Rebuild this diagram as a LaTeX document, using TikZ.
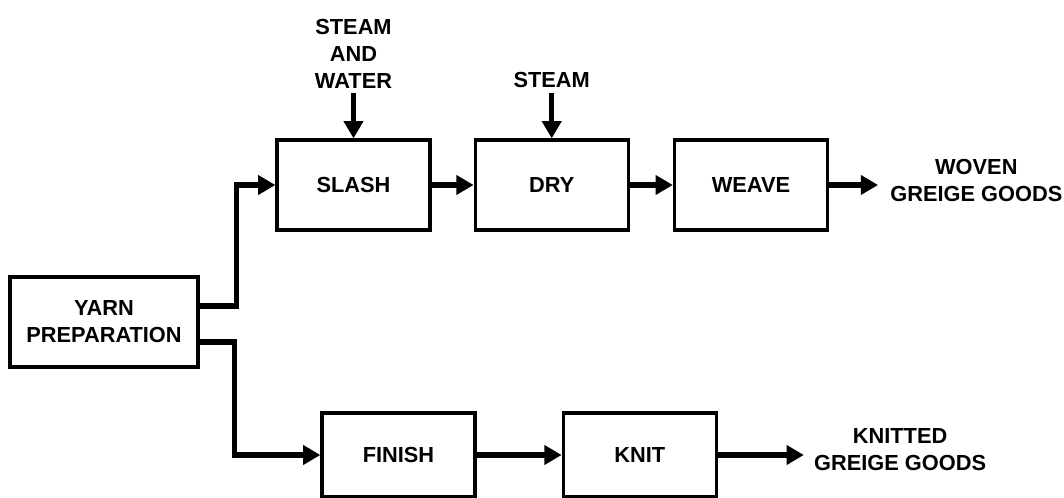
\documentclass[tikz,border=0pt]{standalone}
\usepackage{fontspec}
\setmainfont{Liberation Sans}
\usetikzlibrary{arrows.meta, positioning}

\begin{document}
\begin{tikzpicture}[
  node distance = 1.05cm and 1.05cm,
  box/.style = {
    rectangle, draw=black, line width=2.3pt,
    minimum width=3.825cm, minimum height=2.25cm,
    align=center, inner sep=0pt,
    font=\bfseries\fontsize{15.5}{19.2}\selectfont
  },
  lowbox/.style = {box, minimum height=2.1cm},
  tag/.style = {
    align=center, inner sep=0pt,
    font=\bfseries\fontsize{15.5}{19.2}\selectfont
  },
  flow/.style = {-{Triangle[length=0.43cm, width=0.47cm]}, line width=3.8pt, black}
]
\useasboundingbox (0,0) rectangle (26.6,-12.45);

% Source
\node[box, minimum width=4.7cm] (yarn) at (2.6,-8.05) {YARN\\PREPARATION};

% Row 1: woven line
\node[box] (slash) at (8.8375,-4.625) {SLASH};
\node[box, right=1.05cm of slash]  (dry)   {DRY};
\node[box, right=1.075cm of dry]   (weave) {WEAVE};

% Row 2: knitted line
\node[lowbox] (finish) at (9.9625,-11.375) {FINISH};
\node[lowbox, right=2.125cm of finish] (knit) {KNIT};

% Inputs and products
\node[tag, above=1.25cm of slash] (stmwater) {STEAM\\AND\\WATER};
\node[tag, above=1.25cm of dry]   (stm)      {STEAM};
\node[tag, right=1.525cm of weave, yshift=0.12cm] (woven)   {WOVEN\\GREIGE GOODS};
\node[tag, right=2.4cm of knit, yshift=0.125cm]   (knitted) {KNITTED\\GREIGE GOODS};

% Split from yarn preparation
\draw[flow] ([yshift=0.4cm]yarn.east) -- ++(0.925,0) |- (slash.west);
\draw[flow] ([yshift=-0.5cm]yarn.east) -- ++(0.875,0) |- (finish.west);

% Row 1 arrows
\draw[flow] (slash) -- (dry);
\draw[flow] (dry)   -- (weave);
\draw[flow, shorten >=0.3cm] (weave) -- (weave -| woven.west);

% Row 2 arrows
\draw[flow] (finish) -- (knit);
\draw[flow, shorten >=0.25cm] (knit) -- (knit -| knitted.west);

% Steam feeds
\draw[flow, shorten <=0.12cm] (stmwater) -- (slash);
\draw[flow, shorten <=0.12cm] (stm) -- (dry);
\end{tikzpicture}
\end{document}
